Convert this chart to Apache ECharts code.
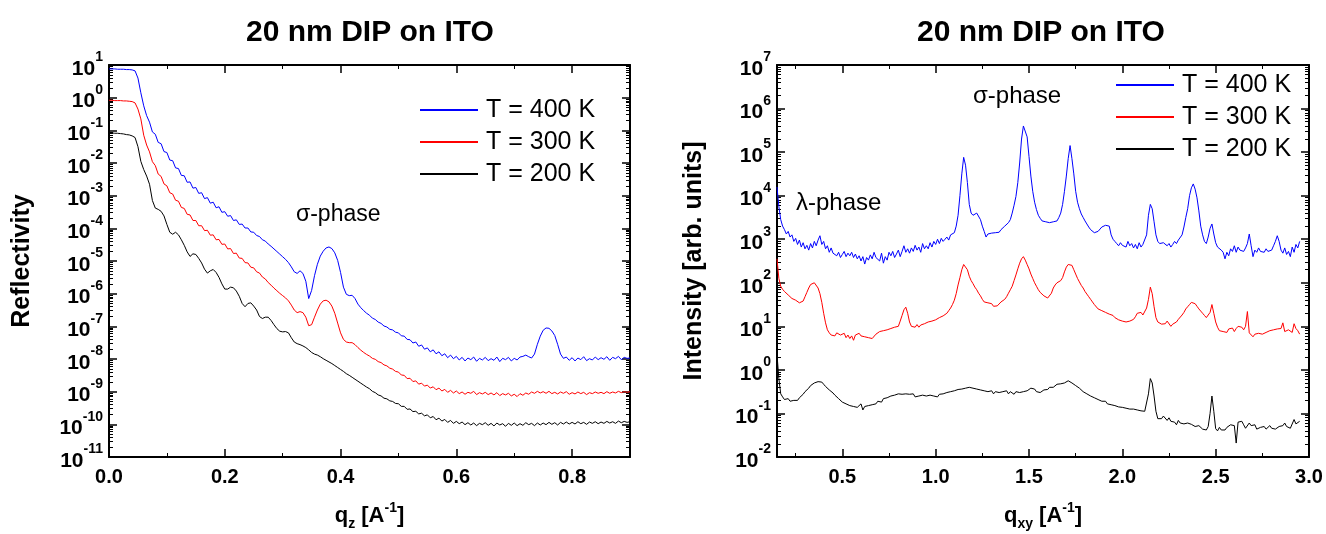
<!DOCTYPE html>
<html><head><meta charset="utf-8">
<script src="https://cdn.jsdelivr.net/npm/echarts@6/dist/echarts.min.js"></script>
<style>html,body{margin:0;padding:0;background:#fff}#c{width:1326px;height:534px}</style>
</head><body><div id="c"></div>
<script>
// ---------- Left panel: reflectivity vs q_z (values are log10 of reflectivity) ----------
const qz = [
0,0.005,0.01,0.015,0.02,0.025,0.03,0.035,0.04,0.045,
0.05,0.055,0.06,0.065,0.07,0.075,0.08,0.085,0.09,0.095,
0.1,0.105,0.11,0.115,0.12,0.125,0.13,0.135,0.14,0.145,
0.15,0.155,0.16,0.165,0.17,0.175,0.18,0.185,0.19,0.195,
0.2,0.205,0.21,0.215,0.22,0.225,0.23,0.235,0.24,0.245,
0.25,0.255,0.26,0.265,0.27,0.275,0.28,0.285,0.29,0.295,
0.3,0.305,0.31,0.315,0.32,0.325,0.33,0.335,0.34,0.345,
0.35,0.355,0.36,0.365,0.37,0.375,0.38,0.385,0.39,0.395,
0.4,0.405,0.41,0.415,0.42,0.425,0.43,0.435,0.44,0.445,
0.45,0.455,0.46,0.465,0.47,0.475,0.48,0.485,0.49,0.495,
0.5,0.505,0.51,0.515,0.52,0.525,0.53,0.535,0.54,0.545,
0.55,0.555,0.56,0.565,0.57,0.575,0.58,0.585,0.59,0.595,
0.6,0.605,0.61,0.615,0.62,0.625,0.63,0.635,0.64,0.645,
0.65,0.655,0.66,0.665,0.67,0.675,0.68,0.685,0.69,0.695,
0.7,0.705,0.71,0.715,0.72,0.725,0.73,0.735,0.74,0.745,
0.75,0.755,0.76,0.765,0.77,0.775,0.78,0.785,0.79,0.795,
0.8,0.805,0.81,0.815,0.82,0.825,0.83,0.835,0.84,0.845,
0.85,0.855,0.86,0.865,0.87,0.875,0.88,0.885,0.89,0.895,
0.9];
const refl400Log = [
0.88,0.88,0.88,0.87,0.87,0.87,0.86,0.86,0.85,0.82,
0.6,0.15,-0.25,-0.55,-0.75,-1.05,-1.12,-1.37,-1.41,-1.65,
-1.68,-1.91,-1.93,-2.15,-2.17,-2.38,-2.39,-2.59,-2.58,-2.77,
-2.75,-2.93,-2.91,-3.09,-3.06,-3.23,-3.2,-3.37,-3.34,-3.51,
-3.49,-3.63,-3.61,-3.76,-3.74,-3.88,-3.87,-3.99,-3.99,-4.11,
-4.12,-4.22,-4.25,-4.35,-4.39,-4.48,-4.55,-4.63,-4.71,-4.79,
-4.87,-4.95,-5.05,-5.18,-5.33,-5.38,-5.3,-5.38,-5.62,-6.15,
-5.9,-5.45,-5.1,-4.85,-4.7,-4.6,-4.57,-4.62,-4.75,-4.98,
-5.35,-5.8,-6.02,-6.06,-6.05,-6.15,-6.32,-6.43,-6.52,-6.6,
-6.66,-6.75,-6.79,-6.87,-6.91,-6.99,-7.02,-7.09,-7.11,-7.18,
-7.2,-7.29,-7.3,-7.4,-7.41,-7.51,-7.48,-7.61,-7.57,-7.7,
-7.66,-7.78,-7.72,-7.84,-7.78,-7.9,-7.84,-7.96,-7.88,-7.99,
-7.92,-8.03,-7.95,-8.06,-7.97,-8.02,-7.94,-8.07,-7.98,-8.03,
-7.95,-8.05,-7.99,-8.04,-7.94,-8.08,-7.98,-8.02,-7.95,-8.06,
-7.98,-8.03,-7.94,-7.92,-7.88,-7.93,-7.97,-7.85,-7.55,-7.3,
-7.12,-7.05,-7.06,-7.14,-7.28,-7.55,-7.85,-7.98,-7.94,-8.04,
-7.96,-8.06,-7.97,-8.02,-7.93,-8.05,-7.99,-8.03,-7.94,-8.02,
-7.96,-8.01,-7.93,-8.04,-7.95,-7.99,-7.92,-8.02,-7.95,-7.98,
-7.97];
const refl300Log = [
-0.08,-0.08,-0.09,-0.09,-0.09,-0.1,-0.1,-0.11,-0.12,-0.16,
-0.35,-0.65,-1.15,-1.45,-1.66,-1.96,-2.08,-2.34,-2.41,-2.64,
-2.7,-2.91,-2.95,-3.14,-3.17,-3.36,-3.39,-3.57,-3.59,-3.76,
-3.76,-3.92,-3.92,-4.07,-4.06,-4.21,-4.2,-4.35,-4.34,-4.49,
-4.48,-4.63,-4.62,-4.77,-4.76,-4.91,-4.92,-5.05,-5.06,-5.19,
-5.21,-5.33,-5.37,-5.49,-5.55,-5.66,-5.74,-5.83,-5.91,-5.99,
-6.06,-6.13,-6.22,-6.35,-6.5,-6.58,-6.55,-6.58,-6.72,-6.98,
-6.95,-6.72,-6.5,-6.32,-6.22,-6.2,-6.25,-6.38,-6.6,-6.9,
-7.2,-7.4,-7.48,-7.5,-7.5,-7.56,-7.65,-7.73,-7.8,-7.86,
-7.91,-7.98,-8.01,-8.08,-8.11,-8.18,-8.21,-8.28,-8.31,-8.38,
-8.4,-8.49,-8.5,-8.6,-8.59,-8.69,-8.67,-8.77,-8.74,-8.83,
-8.8,-8.89,-8.85,-8.94,-8.89,-8.98,-8.93,-9.02,-8.96,-9.04,
-8.98,-9.06,-9.01,-9.08,-9.02,-9.05,-8.99,-9.09,-9.03,-9.07,
-9.02,-9.09,-9.04,-9.1,-9.03,-9.12,-9.06,-9.1,-9.05,-9.13,
-9.08,-9.15,-9.06,-9.11,-9.04,-9.08,-9.01,-9.05,-8.99,-9.04,
-9,-9.05,-8.99,-9.06,-9.02,-9.07,-9.01,-9.05,-9,-9.08,
-9.03,-9.07,-9.01,-9.06,-9.02,-9.09,-9.03,-9.06,-9.01,-9.05,
-9.02,-9.06,-9,-9.05,-9.01,-9.04,-8.99,-9.03,-9,-9.02,
-9];
const refl200Log = [
-1.08,-1.08,-1.09,-1.09,-1.1,-1.11,-1.13,-1.14,-1.17,-1.22,
-1.5,-1.95,-2.2,-2.4,-2.65,-3.15,-3.38,-3.42,-3.48,-3.62,
-3.88,-4.12,-4.18,-4.12,-4.2,-4.35,-4.52,-4.72,-4.86,-4.78,
-4.8,-4.92,-5.06,-5.25,-5.37,-5.3,-5.26,-5.35,-5.5,-5.7,
-5.86,-5.86,-5.8,-5.82,-5.92,-6.08,-6.3,-6.4,-6.3,-6.28,
-6.38,-6.5,-6.7,-6.76,-6.72,-6.72,-6.82,-6.95,-7.07,-7.15,
-7.17,-7.16,-7.2,-7.35,-7.48,-7.53,-7.56,-7.6,-7.65,-7.72,
-7.8,-7.85,-7.88,-7.93,-7.99,-8.04,-8.09,-8.14,-8.2,-8.26,
-8.32,-8.38,-8.45,-8.5,-8.56,-8.62,-8.68,-8.74,-8.8,-8.86,
-8.91,-8.99,-9.03,-9.1,-9.13,-9.2,-9.22,-9.28,-9.3,-9.36,
-9.37,-9.45,-9.45,-9.54,-9.53,-9.61,-9.6,-9.68,-9.66,-9.74,
-9.71,-9.8,-9.76,-9.86,-9.81,-9.9,-9.85,-9.94,-9.88,-9.97,
-9.91,-9.98,-9.93,-10.01,-9.95,-10.02,-9.96,-10.04,-9.97,-10.01,
-9.95,-10.03,-9.97,-10.05,-9.96,-10.02,-9.98,-10.06,-9.97,-10.03,
-9.96,-10.04,-9.98,-10.03,-9.95,-10.01,-9.97,-10.04,-9.96,-10.02,
-9.96,-10.01,-9.94,-10,-9.95,-10.02,-9.94,-9.99,-9.93,-9.99,
-9.94,-9.99,-9.92,-9.98,-9.94,-10,-9.93,-9.97,-9.92,-9.98,
-9.93,-9.97,-9.91,-9.96,-9.92,-9.97,-9.9,-9.95,-9.91,-9.94,
-9.92];

// ---------- Right panel: intensity vs q_xy (values are log10 of intensity) ----------
const qxy = [
0.15,0.16,0.17,0.18,0.19,0.2,0.21,0.22,0.23,0.24,
0.25,0.26,0.27,0.28,0.29,0.3,0.31,0.32,0.33,0.34,
0.35,0.36,0.37,0.38,0.39,0.4,0.41,0.42,0.43,0.44,
0.45,0.46,0.47,0.48,0.49,0.5,0.51,0.52,0.53,0.54,
0.55,0.56,0.57,0.58,0.59,0.6,0.61,0.62,0.63,0.64,
0.65,0.66,0.67,0.68,0.69,0.7,0.71,0.72,0.73,0.74,
0.75,0.76,0.77,0.78,0.79,0.8,0.81,0.82,0.83,0.84,
0.85,0.86,0.87,0.88,0.89,0.9,0.91,0.92,0.93,0.94,
0.95,0.96,0.97,0.98,0.99,1,1.01,1.02,1.03,1.04,
1.05,1.06,1.07,1.08,1.09,1.1,1.11,1.12,1.13,1.14,
1.15,1.16,1.17,1.18,1.19,1.2,1.21,1.22,1.23,1.24,
1.25,1.26,1.27,1.28,1.29,1.3,1.31,1.32,1.33,1.34,
1.35,1.36,1.37,1.38,1.39,1.4,1.41,1.42,1.43,1.44,
1.45,1.46,1.47,1.48,1.49,1.5,1.51,1.52,1.53,1.54,
1.55,1.56,1.57,1.58,1.59,1.6,1.61,1.62,1.63,1.64,
1.65,1.66,1.67,1.68,1.69,1.7,1.71,1.72,1.73,1.74,
1.75,1.76,1.77,1.78,1.79,1.8,1.81,1.82,1.83,1.84,
1.85,1.86,1.87,1.88,1.89,1.9,1.91,1.92,1.93,1.94,
1.95,1.96,1.97,1.98,1.99,2,2.01,2.02,2.03,2.04,
2.05,2.06,2.07,2.08,2.09,2.1,2.11,2.12,2.13,2.14,
2.15,2.16,2.17,2.18,2.19,2.2,2.21,2.22,2.23,2.24,
2.25,2.26,2.27,2.28,2.29,2.3,2.31,2.32,2.33,2.34,
2.35,2.36,2.37,2.38,2.39,2.4,2.41,2.42,2.43,2.44,
2.45,2.46,2.47,2.48,2.49,2.5,2.51,2.52,2.53,2.54,
2.55,2.56,2.57,2.58,2.59,2.6,2.61,2.62,2.63,2.64,
2.65,2.66,2.67,2.68,2.69,2.7,2.71,2.72,2.73,2.74,
2.75,2.76,2.77,2.78,2.79,2.8,2.81,2.82,2.83,2.84,
2.85,2.86,2.87,2.88,2.89,2.9,2.91,2.92,2.93,2.94,
2.95];
const int400Log = [
4.2,3.75,3.45,3.3,3.22,3.12,3.18,3.05,3.1,2.95,
3.02,2.88,2.98,2.82,2.92,2.78,2.86,2.75,2.9,2.8,
2.95,2.85,2.98,3.08,2.88,2.95,2.78,2.85,2.7,2.8,
2.68,2.72,2.62,2.7,2.58,2.65,2.72,2.6,2.68,2.62,
2.7,2.58,2.66,2.55,2.62,2.5,2.6,2.43,2.58,2.52,
2.64,2.55,2.7,2.58,2.62,2.5,2.68,2.45,2.6,2.52,
2.7,2.62,2.72,2.58,2.66,2.75,2.6,2.72,2.85,2.7,
2.78,2.68,2.8,2.72,2.86,2.75,2.82,2.7,2.9,2.78,
2.85,2.78,2.92,2.82,2.95,2.88,3,2.9,3.02,2.95,
3,3.05,2.98,3.1,3.12,3.15,3.3,3.55,4,4.5,
4.88,4.7,4.3,3.8,3.6,3.55,3.56,3.6,3.58,3.45,
3.3,3.18,3.05,3.12,3.08,3.14,3.1,3.15,3.18,3.16,
3.22,3.25,3.3,3.28,3.38,3.45,3.6,3.78,3.98,4.3,
4.75,5.3,5.6,5.62,5.35,4.9,4.45,4.1,3.85,3.68,
3.55,3.48,3.42,3.38,3.4,3.36,3.38,3.37,3.4,3.38,
3.42,3.5,3.6,3.8,4.1,4.45,4.85,5.15,4.85,4.5,
4.1,3.85,3.7,3.58,3.5,3.42,3.35,3.28,3.22,3.18,
3.15,3.12,3.18,3.2,3.28,3.25,3.32,3.36,3.3,3.1,
3,2.95,2.9,2.85,2.92,2.86,2.9,2.82,2.95,2.85,
2.9,2.8,2.88,2.78,2.92,2.82,2.88,2.92,3.1,3.55,
3.8,3.7,3.4,3.1,2.95,2.9,2.86,2.92,2.88,2.85,
2.9,2.82,2.88,2.95,2.9,2.98,3.02,3.1,3.28,3.5,
3.7,4,4.18,4.27,4.15,3.95,3.65,3.3,3.1,2.95,
2.9,3.05,3.25,3.35,3.12,2.92,2.82,2.85,2.75,2.7,
2.55,2.7,2.62,2.78,2.72,2.85,2.7,2.82,2.75,2.78,
2.72,2.8,2.9,3.12,2.85,2.6,2.75,2.7,2.8,2.72,
2.76,2.7,2.78,2.72,2.7,2.75,2.85,2.95,3.08,2.95,
2.75,2.68,2.8,2.65,2.72,2.6,2.82,2.7,2.88,2.8,
2.95];
const int300Log = [
2.55,2.1,1.92,1.85,1.8,1.76,1.72,1.68,1.64,1.62,
1.6,1.57,1.54,1.52,1.58,1.68,1.78,1.88,1.96,1.99,
2,1.97,1.88,1.75,1.55,1.3,1.08,0.92,0.85,0.8,
0.84,0.78,0.85,0.82,0.8,0.76,0.84,0.74,0.8,0.72,
0.78,0.68,0.8,0.76,0.84,0.78,0.82,0.76,0.8,0.74,
0.78,0.72,0.76,0.82,0.8,0.88,0.84,0.9,0.86,0.92,
0.9,0.95,0.92,0.98,0.94,1,1.12,1.25,1.38,1.44,
1.3,1.1,1,1,0.98,1.04,0.98,1.03,1,1.06,
1.04,1.1,1.06,1.12,1.1,1.15,1.14,1.2,1.18,1.24,
1.26,1.3,1.36,1.42,1.5,1.6,1.75,1.95,2.12,2.3,
2.42,2.45,2.3,2.15,2.05,1.98,1.9,1.84,1.76,1.7,
1.62,1.56,1.52,1.54,1.5,1.52,1.46,1.45,1.47,1.5,
1.56,1.58,1.62,1.68,1.76,1.84,1.92,2.05,2.18,2.32,
2.45,2.55,2.6,2.52,2.42,2.32,2.2,2.1,2,1.92,
1.84,1.78,1.74,1.7,1.66,1.65,1.68,1.76,1.88,1.95,
2,1.98,2.05,2.12,2.25,2.36,2.42,2.46,2.4,2.3,
2.2,2.1,2.02,1.94,1.88,1.8,1.74,1.68,1.62,1.56,
1.5,1.46,1.4,1.42,1.36,1.38,1.32,1.3,1.28,1.24,
1.25,1.2,1.18,1.15,1.16,1.12,1.14,1.1,1.08,1.12,
1.1,1.16,1.22,1.3,1.28,1.32,1.26,1.3,1.42,1.62,
1.9,1.75,1.45,1.2,1.1,1.08,1.05,1.08,1.06,1.12,
1.08,1,1.05,1.02,1.1,1.16,1.2,1.26,1.32,1.4,
1.45,1.5,1.55,1.57,1.52,1.46,1.4,1.35,1.3,1.25,
1.2,1.22,1.32,1.5,1.3,1.1,0.98,0.9,0.94,0.88,
0.92,0.86,0.94,0.9,0.96,0.88,0.95,1,1.04,0.98,
0.92,1,1.34,0.85,0.84,0.76,0.82,0.78,0.84,0.8,
0.82,0.78,0.86,0.84,0.9,0.86,0.92,0.88,0.94,0.9,
0.95,1.08,0.88,0.84,0.92,0.96,0.86,1.06,0.95,0.9,
0.82];
const int200Log = [
0.35,-0.2,-0.55,-0.62,-0.68,-0.7,-0.66,-0.72,-0.68,-0.7,
-0.66,-0.7,-0.64,-0.6,-0.56,-0.5,-0.46,-0.42,-0.36,-0.33,
-0.3,-0.29,-0.27,-0.3,-0.28,-0.33,-0.38,-0.42,-0.46,-0.5,
-0.53,-0.58,-0.6,-0.66,-0.7,-0.74,-0.72,-0.78,-0.74,-0.82,
-0.78,-0.84,-0.8,-0.86,-0.82,-0.78,-0.92,-0.84,-0.88,-0.82,
-0.86,-0.8,-0.76,-0.78,-0.72,-0.7,-0.74,-0.66,-0.7,-0.64,
-0.62,-0.6,-0.64,-0.58,-0.6,-0.55,-0.58,-0.56,-0.6,-0.55,
-0.58,-0.56,-0.6,-0.55,-0.62,-0.58,-0.6,-0.64,-0.58,-0.62,
-0.6,-0.63,-0.58,-0.62,-0.6,-0.57,-0.62,-0.56,-0.6,-0.55,
-0.58,-0.52,-0.55,-0.5,-0.53,-0.48,-0.5,-0.45,-0.48,-0.44,
-0.46,-0.42,-0.44,-0.4,-0.38,-0.42,-0.4,-0.44,-0.42,-0.46,
-0.44,-0.48,-0.45,-0.5,-0.52,-0.48,-0.55,-0.5,-0.54,-0.52,
-0.55,-0.5,-0.53,-0.48,-0.55,-0.5,-0.52,-0.56,-0.5,-0.54,
-0.52,-0.55,-0.5,-0.53,-0.48,-0.45,-0.42,-0.46,-0.44,-0.5,
-0.48,-0.52,-0.5,-0.46,-0.42,-0.45,-0.4,-0.38,-0.4,-0.36,
-0.33,-0.3,-0.32,-0.28,-0.3,-0.26,-0.25,-0.27,-0.3,-0.34,
-0.36,-0.4,-0.42,-0.45,-0.5,-0.52,-0.55,-0.58,-0.6,-0.62,
-0.64,-0.62,-0.68,-0.7,-0.72,-0.74,-0.72,-0.78,-0.75,-0.8,
-0.78,-0.82,-0.8,-0.85,-0.82,-0.86,-0.84,-0.88,-0.86,-0.9,
-0.88,-0.9,-0.86,-0.92,-0.9,-0.94,-0.9,-0.95,-0.92,-0.55,
-0.2,-0.3,-0.6,-0.95,-1.12,-1.08,-1.12,-1.06,-1.1,-1.16,
-1.1,-1.18,-1.14,-1.2,-1.26,-1.16,-1.22,-1.18,-1.24,-1.2,
-1.22,-1.18,-1.25,-1.22,-1.3,-1.34,-1.28,-1.32,-1.36,-1.4,
-1.38,-1.3,-1,-0.6,-0.95,-1.35,-1.4,-1.32,-1.38,-1.34,
-1.38,-1.32,-1.36,-1.26,-1.3,-1.28,-1.68,-1.2,-1.24,-1.18,
-1.26,-1.34,-1.3,-1.22,-1.28,-1.32,-1.26,-1.36,-1.38,-1.32,
-1.36,-1.3,-1.36,-1.32,-1.28,-1.34,-1.3,-1.36,-1.34,-1.3,
-1.34,-1.28,-1.22,-1.3,-1.26,-1.34,-1.3,-1.14,-1.24,-1.2,
-1.18];

// ---------- Tick values ----------
const qzMajorTicks = [0, 0.2, 0.4, 0.6, 0.8];
const qzMinorTicks = [0.1, 0.3, 0.5, 0.7];
const qxyMajorTicks = [0.5, 1.0, 1.5, 2.0, 2.5, 3.0];
const qxyMinorTicks = [0.25, 0.75, 1.25, 1.75, 2.25, 2.75];
const leftDecades = [-11, 1];    // y range: 10^-11 .. 10^1
const rightDecades = [-2, 7];    // y range: 10^-2 .. 10^7
const seriesNames = ['T = 400 K', 'T = 300 K', 'T = 200 K'];
const seriesColors = ['#0000ff', '#ff0000', '#000000'];

const F = '"Liberation Sans", Arial, Helvetica, sans-serif';

function pairs(xs, ys) { return xs.map((x, i) => [x, ys[i]]); }
// positions of the log-scale minor ticks (2..9 x 10^k) on the exponent axis
function logMinorPositions(lo, hi) {
  const out = [];
  for (let k = lo; k < hi; k++) for (let m = 2; m <= 9; m++) out.push(k + Math.log10(m));
  return out;
}

const L = { xMin: 0, xMax: 0.9 };
const R = { xMin: 0.15, xMax: 3.0 };

const tickStyle = { color: '#000', width: 1.5 };
const minorStyle = { color: '#000', width: 1 };
const lineAxis = { show: true, onZero: false, lineStyle: { color: '#000', width: 2 } };
const noAxisLine = { show: false, onZero: false };

function xAxesFor(grid, range, major, minor, nameRich) {
  const base = { gridIndex: grid, type: 'value', min: range.xMin, max: range.xMax, splitLine: { show: false } };
  return [
    Object.assign({}, base, {
      position: 'bottom', axisLine: lineAxis,
      axisTick: { inside: true, length: 8, customValues: major, lineStyle: tickStyle },
      axisLabel: { customValues: major, margin: 10, formatter: v => v.toFixed(1),
        fontFamily: F, fontSize: 20, fontWeight: 'bold', color: '#000' },
      name: nameRich, nameLocation: 'middle', nameGap: 44,
      nameTextStyle: { color: '#000', rich: {
        b: { fontFamily: F, fontSize: 22, fontWeight: 'bold', color: '#000', padding: [4, 0, 4, 0] },
        sub: { fontFamily: F, fontSize: 14, fontWeight: 'bold', color: '#000', verticalAlign: 'bottom' },
        sup: { fontFamily: F, fontSize: 14, fontWeight: 'bold', color: '#000', verticalAlign: 'top' } } }
    }),
    Object.assign({}, base, { position: 'bottom', axisLine: noAxisLine,
      axisTick: { inside: true, length: 4, customValues: minor, lineStyle: minorStyle }, axisLabel: { show: false } }),
    Object.assign({}, base, { position: 'top', axisLine: lineAxis,
      axisTick: { inside: true, length: 8, customValues: major, lineStyle: tickStyle }, axisLabel: { show: false } }),
    Object.assign({}, base, { position: 'top', axisLine: noAxisLine,
      axisTick: { inside: true, length: 4, customValues: minor, lineStyle: minorStyle }, axisLabel: { show: false } })
  ];
}

function yAxesFor(grid, dec, name, gap) {
  const base = { gridIndex: grid, type: 'value', min: dec[0], max: dec[1], interval: 1, splitLine: { show: false } };
  const minors = logMinorPositions(dec[0], dec[1]);
  return [
    Object.assign({}, base, {
      position: 'left', axisLine: lineAxis,
      axisTick: { inside: true, length: 8, lineStyle: tickStyle },
      axisLabel: { margin: 6, formatter: v => '{b|10}{s|' + Math.round(v) + '}',
        rich: {
          b: { fontFamily: F, fontSize: 21, fontWeight: 'bold', color: '#000', padding: [8, 0, 0, 0] },
          s: { fontFamily: F, fontSize: 14, fontWeight: 'bold', color: '#000', verticalAlign: 'top' } } },
      name: name, nameLocation: 'middle', nameGap: gap,
      nameTextStyle: { fontFamily: F, fontSize: 25, fontWeight: 'bold', color: '#000' }
    }),
    Object.assign({}, base, { position: 'left', axisLine: noAxisLine,
      axisTick: { inside: true, length: 4, customValues: minors, lineStyle: minorStyle }, axisLabel: { show: false } }),
    Object.assign({}, base, { position: 'right', axisLine: lineAxis,
      axisTick: { inside: true, length: 8, lineStyle: tickStyle }, axisLabel: { show: false } }),
    Object.assign({}, base, { position: 'right', axisLine: noAxisLine,
      axisTick: { inside: true, length: 4, customValues: minors, lineStyle: minorStyle }, axisLabel: { show: false } })
  ];
}

function lineSeries(name, color, xIdx, yIdx, data) {
  return { type: 'line', name: name, xAxisIndex: xIdx, yAxisIndex: yIdx, data: data,
    symbol: 'none', showSymbol: false, lineStyle: { color: color, width: 1 }, itemStyle: { color: color },
    z: 3, animation: false };
}

const leftData = [refl400Log, refl300Log, refl200Log];
const rightData = [int400Log, int300Log, int200Log];

const legendBase = { orient: 'vertical', itemWidth: 58, itemHeight: 2, icon: 'rect', itemGap: 6,
  padding: 0, selectedMode: false, data: seriesNames,
  textStyle: { fontFamily: F, fontSize: 25, color: '#000', lineHeight: 26, padding: [0, 0, 0, 3] } };

const option = {
  animation: false,
  backgroundColor: '#fff',
  grid: [
    { left: 109, top: 65, width: 521, height: 392, outerBoundsMode: 'none' },
    { left: 777, top: 65, width: 532, height: 392, outerBoundsMode: 'none' }
  ],
  xAxis: [].concat(
    xAxesFor(0, L, qzMajorTicks, qzMinorTicks, '{b|q}{sub|z}{b| [A}{sup|-1}{b|]}'),
    xAxesFor(1, R, qxyMajorTicks, qxyMinorTicks, '{b|q}{sub|xy}{b| [A}{sup|-1}{b|]}')
  ),
  yAxis: [].concat(
    yAxesFor(0, leftDecades, 'Reflectivity', 74),
    yAxesFor(1, rightDecades, 'Intensity [arb. units]', 70)
  ),
  legend: [
    Object.assign({}, legendBase, { left: 420, top: 97 }),
    Object.assign({}, legendBase, { left: 1116, top: 72 })
  ],
  graphic: [
    { type: 'text', x: 370, y: 33, style: { text: '20 nm DIP on ITO', textAlign: 'center', textVerticalAlign: 'middle',
      font: 'bold 30px ' + F, fill: '#000' } },
    { type: 'text', x: 1041, y: 33, style: { text: '20 nm DIP on ITO', textAlign: 'center', textVerticalAlign: 'middle',
      font: 'bold 30px ' + F, fill: '#000' } },
    { type: 'text', x: 296, y: 215, style: { text: 'σ-phase', textVerticalAlign: 'middle', font: '23px ' + F, fill: '#000' } },
    { type: 'text', x: 973, y: 96, style: { text: 'σ-phase', textVerticalAlign: 'middle', font: '24px ' + F, fill: '#000' } },
    { type: 'text', x: 796, y: 203, style: { text: 'λ-phase', textVerticalAlign: 'middle', font: '24px ' + F, fill: '#000' } }
  ],
  series: [].concat(
    seriesNames.map((n, i) => lineSeries(n, seriesColors[i], 0, 0, pairs(qz, leftData[i]))),
    seriesNames.map((n, i) => lineSeries(n, seriesColors[i], 4, 4, pairs(qxy, rightData[i])))
  )
};

const chart = echarts.init(document.getElementById('c'), null, { renderer: 'canvas' });
chart.setOption(option);
</script>
</body></html>
